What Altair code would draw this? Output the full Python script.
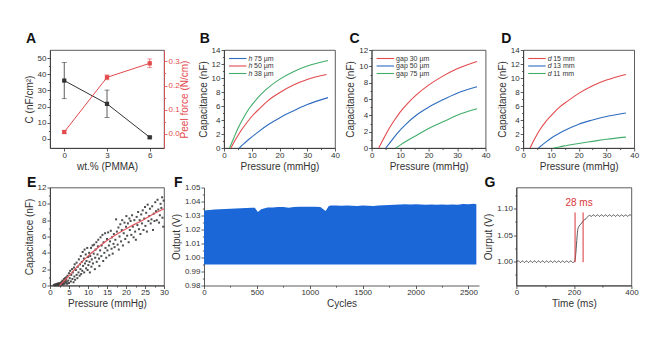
import altair as alt
import pandas as pd

FONT = "Liberation Sans"
INK = "#333333"
RED = "#e24a4d"
BLUE = "#2f6cc0"
GREEN = "#41ad69"
FBLUE = "#1b67d8"
GRED = "#d9353b"
H = 98

# ---------------- data ----------------
a_wt = [0, 3, 6]
a_cap = [36.1, 21.7, 1.0]
a_cap_err = [11.2, 8.5, 0.6]
a_peel = [0.008, 0.234, 0.292]
a_peel_err = [0.006, 0.010, 0.018]

b_labels = ["h 75 µm", "h 50 µm", "h 38 µm"]
b_p = [[5.5, 7, 9, 12, 16, 20, 25, 30, 37.5],
       [2.5, 4, 6, 8, 10, 13, 16, 20, 25, 30, 37],
       [2, 3.5, 5, 7, 9, 12, 15, 20, 25, 30, 37.5]]
b_c = [[0, 0.55, 1.25, 2.2, 3.35, 4.3, 5.3, 6.2, 7.2],
       [0, 1.1, 2.4, 3.5, 4.5, 5.7, 6.8, 7.9, 9.0, 9.8, 10.5],
       [0, 1.4, 2.8, 4.3, 5.6, 7.1, 8.3, 9.8, 10.9, 11.7, 12.5]]

c_labels = ["gap 30 µm", "gap 50 µm", "gap 75 µm"]
c_p = [[2.5, 4, 6, 8, 10, 13, 16, 20, 25, 30, 37],
       [5, 7, 9, 12, 16, 20, 25, 30, 37],
       [8.5, 10, 13, 16, 20, 25, 30, 37]]
c_c = [[0, 1.0, 2.3, 3.4, 4.4, 5.6, 6.6, 7.7, 8.8, 9.7, 10.6],
       [0, 0.9, 1.8, 2.9, 4.1, 5.0, 5.9, 6.7, 7.5],
       [0, 0.35, 1.0, 1.6, 2.4, 3.2, 4.0, 4.8]]

d_labels = ["d 15 mm", "d 13 mm", "d 11 mm"]
d_p = [[2.5, 4, 6, 8, 10, 13, 16, 20, 25, 30, 37],
       [5.5, 8, 10, 13, 16, 20, 25, 30, 37],
       [11, 13, 16, 20, 25, 30, 37]]
d_c = [[0, 1.2, 2.6, 3.7, 4.6, 5.8, 6.7, 7.8, 8.9, 9.7, 10.5],
       [0, 0.8, 1.4, 2.1, 2.7, 3.4, 4.0, 4.5, 5.0],
       [0, 0.15, 0.4, 0.65, 0.95, 1.25, 1.55]]

e_points = [
    (1.0, 0.05), (1.2, 0.1), (1.4, 0.0), (1.5, 0.15), (1.7, 0.05), (1.8, 0.2), (2.0, 0.1), (2.1, 0.25),
    (2.2, 0.0), (2.4, 0.15), (2.5, 0.3), (2.6, 0.05), (2.8, 0.2), (2.9, 0.35), (3.0, 0.1), (3.1, 0.45),
    (3.2, 0.25), (3.3, 0.6), (3.4, 0.15), (3.5, 0.5), (3.6, 0.3), (3.7, 0.8), (3.8, 0.2), (3.9, 0.55),
    (4.0, 0.9), (4.1, 0.35), (4.2, 0.7), (4.3, 1.0), (4.4, 0.45), (4.5, 0.2),
    (4.6, 1.2), (4.8, 0.6), (5.0, 1.5), (5.0, 0.3), (5.2, 0.9), (5.3, 1.8), (5.5, 0.5), (5.6, 1.3),
    (5.8, 2.0), (5.9, 0.8), (6.0, 1.6), (6.2, 0.4), (6.3, 2.2), (6.4, 1.1), (6.5, 2.6), (6.6, 0.7),
    (6.8, 1.9), (7.0, 1.3), (7.0, 2.8), (7.2, 0.9), (7.3, 2.3), (7.5, 1.6), (7.6, 3.2), (7.8, 1.2),
    (7.9, 2.6), (8.0, 2.0), (8.1, 3.6), (8.2, 1.4), (8.4, 2.9), (8.5, 1.8),
    (8.6, 4.1), (8.7, 2.4), (8.9, 3.3), (9.0, 1.6), (9.1, 4.4), (9.2, 2.7), (9.4, 3.8), (9.5, 2.1),
    (9.6, 3.0), (9.8, 4.6), (9.9, 1.9), (10.0, 3.5), (10.1, 2.5), (10.3, 4.0), (10.4, 2.9), (10.5, 1.6),
    (10.6, 3.6), (10.8, 4.6), (10.9, 2.3), (11.0, 3.2), (11.2, 4.9), (11.3, 2.7), (11.5, 3.9), (11.6, 5.0),
    (11.8, 2.0), (11.9, 3.4), (12.0, 4.4), (12.2, 5.3), (12.3, 2.9), (12.5, 3.8),
    (12.6, 4.8), (12.7, 5.6), (12.9, 3.3), (13.0, 2.4), (13.2, 4.3), (13.3, 5.9), (13.5, 3.6), (13.6, 4.9),
    (13.8, 6.2), (14.0, 3.0), (14.1, 5.3), (14.3, 4.0), (14.5, 6.4), (14.6, 4.6), (14.8, 3.4), (15.0, 5.7),
    (15.1, 4.3), (15.3, 6.5), (15.5, 4.9), (15.6, 3.7), (15.8, 5.4), (16.0, 6.7), (16.2, 4.5), (16.3, 5.9),
    (16.5, 3.9), (16.7, 5.1), (16.8, 6.3), (17.0, 4.7), (17.2, 5.6), (17.4, 8.1),
    (17.6, 6.6), (17.8, 5.0), (18.0, 7.1), (18.1, 4.4), (18.3, 6.0), (18.5, 7.5), (18.7, 5.4), (18.9, 6.8),
    (19.0, 8.0), (19.2, 4.9), (19.4, 6.4), (19.6, 7.7), (19.8, 5.7), (20.0, 7.2), (20.1, 8.5), (20.3, 6.1),
    (20.5, 7.6), (20.7, 5.3), (20.9, 8.2), (21.0, 6.8), (21.2, 7.9), (21.4, 6.2), (21.6, 8.6), (21.8, 7.2),
    (22.0, 5.9), (22.2, 8.0), (22.4, 6.6),
    (22.6, 5.6), (22.8, 8.4), (23.0, 7.4), (23.2, 9.0), (23.4, 6.9), (23.6, 8.0), (23.8, 6.3), (24.0, 8.7),
    (24.2, 7.6), (24.4, 9.2), (24.6, 6.8), (24.8, 8.2), (25.0, 9.6), (25.1, 7.3), (25.3, 8.9), (25.5, 6.6),
    (25.7, 9.9), (25.9, 7.9),
    (26.1, 8.5), (26.3, 9.4), (26.5, 7.6), (26.7, 8.1), (26.9, 9.7), (27.1, 6.8), (27.3, 8.8), (27.5, 7.9),
    (27.7, 10.2), (27.9, 9.1), (28.1, 8.0), (28.3, 10.5), (28.5, 9.3), (28.7, 7.7), (28.9, 8.6), (29.1, 10.0),
    (29.3, 9.5), (29.5, 10.8), (29.6, 8.3), (29.8, 7.2), (29.9, 10.4),
]
e_fit_p = [2.5, 4, 6, 8, 10, 12, 15, 18, 21, 24, 27, 30]
e_fit_c = [0, 0.7, 1.7, 2.7, 3.6, 4.4, 5.5, 6.4, 7.2, 7.9, 8.7, 9.4]

f_cycle = [0, 50, 100, 150, 200, 250, 300, 350, 400, 450, 480, 510, 540, 600, 650, 700, 750, 800, 850,
           900, 950, 1000, 1050, 1100, 1150, 1180, 1200, 1250, 1300, 1350, 1400, 1450, 1500, 1550, 1600,
           1650, 1700, 1750, 1800, 1850, 1900, 1950, 2000, 2050, 2100, 2150, 2200, 2250, 2300, 2350,
           2400, 2450, 2500, 2550, 2575]
f_top = [1.0335, 1.0340, 1.0342, 1.0345, 1.0347, 1.0348, 1.0350, 1.0352, 1.0353, 1.0355, 1.0356, 1.0325,
         1.0345, 1.0357, 1.0358, 1.0360, 1.0360, 1.0355, 1.0360, 1.0362, 1.0362, 1.0363, 1.0362, 1.0360,
         1.0332, 1.0368, 1.0372, 1.0372, 1.0370, 1.0372, 1.0370, 1.0368, 1.0372, 1.0370, 1.0368, 1.0372,
         1.0374, 1.0375, 1.0376, 1.0378, 1.0380, 1.0378, 1.0380, 1.0378, 1.0377, 1.0378, 1.0377, 1.0378,
         1.0377, 1.0378, 1.0377, 1.0382, 1.0380, 1.0384, 1.0380]
f_base = 0.995

g_t = [0, 7, 14, 21, 28, 35, 42, 49, 56, 63, 70, 77, 84, 91, 98, 105, 112, 119, 126, 133, 140, 147, 154,
       161, 168, 175, 182, 189, 196, 202, 206, 210, 214, 218, 224, 230, 236, 242, 248, 254, 261, 268,
       275, 282, 289, 296, 303, 310, 317, 324, 331, 338, 345, 352, 359, 366, 373, 380, 387, 394, 400]
g_v = [1.000, 1.0015, 0.9985, 1.0015, 0.9985, 1.0015, 0.9985, 1.0015, 0.9985, 1.0015, 0.9985, 1.0015,
       0.9985, 1.0015, 0.9985, 1.0015, 0.9985, 1.0015, 0.9985, 1.0015, 0.9985, 1.0015, 0.9985, 1.0015,
       0.9985, 1.0015, 0.9985, 1.0015, 0.9985, 1.000, 1.012, 1.040, 1.062, 1.067, 1.071, 1.075, 1.079,
       1.081, 1.085, 1.0875, 1.0855, 1.0885, 1.0855, 1.0885, 1.0855, 1.0885, 1.0855, 1.0885, 1.0855,
       1.0885, 1.0855, 1.0885, 1.0855, 1.0885, 1.0855, 1.0885, 1.0855, 1.0885, 1.0855, 1.0885, 1.087]
g_mark_t = [204, 232]
g_mark_lo = [0.999, 0.999]
g_mark_hi = [1.093, 1.093]
g_note = "28 ms"
g_note_t = 218
g_note_v = 1.110


# ---------------- helpers ----------------
def axis(title, major, minor=(), fmt="d", color=INK, **extra):
    vals = sorted(list(major) + list(minor))
    maj = "[" + ",".join(repr(v) for v in major) + "]"
    kw = dict(
        title=title, values=vals, format=fmt,
        labelExpr=f"indexof({maj}, datum.value) >= 0 ? datum.label : ''",
        tickSize={"condition": {"test": f"indexof({maj}, datum.value) < 0", "value": 1.6}, "value": 3},
        domainColor=color, tickColor=color, labelColor=color, titleColor=color,
    )
    kw.update(extra)
    return alt.Axis(**kw)


def lin(domain):
    return alt.Scale(domain=domain, nice=False, zero=False)


ONE = pd.DataFrame({"k": [0]})


def letter(ch, dx, dy):
    return alt.Chart(pd.DataFrame({"t": [ch]})).mark_text(
        align="left", baseline="top", fontSize=14, fontWeight="bold", color="#111111", font=FONT
    ).encode(text="t:N", x=alt.value(dx), y=alt.value(dy))


def legend_layers(labels, colors, italic):
    rows = [8.5, 16, 23.5]
    out = []
    for lab, col, ry in zip(labels, colors, rows):
        out.append(alt.Chart(ONE).mark_rule(color=col, strokeWidth=1.1).encode(
            x=alt.value(5), x2=alt.value(22.5), y=alt.value(ry)))
        if italic:
            pre, rest = lab.split(" ", 1)
            out.append(alt.Chart(pd.DataFrame({"t": [pre]})).mark_text(
                align="left", baseline="middle", fontSize=7, fontStyle="italic", color=INK, font=FONT
            ).encode(text="t:N", x=alt.value(24.5), y=alt.value(ry)))
            out.append(alt.Chart(pd.DataFrame({"t": [rest]})).mark_text(
                align="left", baseline="middle", fontSize=7, color=INK, font=FONT
            ).encode(text="t:N", x=alt.value(30), y=alt.value(ry)))
        else:
            out.append(alt.Chart(pd.DataFrame({"t": [lab]})).mark_text(
                align="left", baseline="middle", fontSize=7, color=INK, font=FONT
            ).encode(text="t:N", x=alt.value(24.5), y=alt.value(ry)))
    return out


# ---------------- panel A ----------------
dfA = pd.DataFrame({
    "wt": a_wt, "cap": a_cap,
    "cap_lo": [v - e for v, e in zip(a_cap, a_cap_err)],
    "cap_hi": [v + e for v, e in zip(a_cap, a_cap_err)],
    "peel": a_peel,
    "peel_lo": [v - e for v, e in zip(a_peel, a_peel_err)],
    "peel_hi": [v + e for v, e in zip(a_peel, a_peel_err)],
})
xA = alt.X("wt:Q", scale=lin([-1, 7]), axis=axis("wt.% (PMMA)", [0, 3, 6]))
axL = axis("C (nF/cm²)", [0, 10, 20, 30, 40, 50], [5, 15, 25, 35, 45])
axR = axis("Peel force (N/cm)", [0, 0.1, 0.2, 0.3], [0.05, 0.15, 0.25], fmt=".1f", color=RED,
           orient="right", titleAngle=270, titleBaseline="top", titlePadding=0.5)
sL = lin([-5.6, 55])
sR = lin([-0.058, 0.347])
bA = alt.Chart(dfA)
leftA = alt.layer(
    bA.mark_line(color=INK, strokeWidth=1).encode(x=xA, y=alt.Y("cap:Q", scale=sL, axis=axL)),
    bA.mark_rule(color=INK, strokeWidth=0.8).encode(x=xA, y=alt.Y("cap_lo:Q", scale=sL, axis=axL), y2="cap_hi:Q"),
    bA.mark_tick(color=INK, orient="horizontal", size=5, thickness=0.8).encode(x=xA, y=alt.Y("cap_lo:Q", scale=sL, axis=axL)),
    bA.mark_tick(color=INK, orient="horizontal", size=5, thickness=0.8).encode(x=xA, y=alt.Y("cap_hi:Q", scale=sL, axis=axL)),
    bA.mark_square(color=INK, size=18, opacity=1).encode(x=xA, y=alt.Y("cap:Q", scale=sL, axis=axL)),
)
rightA = alt.layer(
    bA.mark_line(color=RED, strokeWidth=1).encode(x=xA, y=alt.Y("peel:Q", scale=sR, axis=axR)),
    bA.mark_rule(color=RED, strokeWidth=0.8).encode(x=xA, y=alt.Y("peel_lo:Q", scale=sR, axis=axR), y2="peel_hi:Q"),
    bA.mark_tick(color=RED, orient="horizontal", size=5, thickness=0.8).encode(x=xA, y=alt.Y("peel_lo:Q", scale=sR, axis=axR)),
    bA.mark_tick(color=RED, orient="horizontal", size=5, thickness=0.8).encode(x=xA, y=alt.Y("peel_hi:Q", scale=sR, axis=axR)),
    bA.mark_square(color=RED, size=18, opacity=1).encode(x=xA, y=alt.Y("peel:Q", scale=sR, axis=axR)),
)
panelA = alt.layer(leftA, rightA, letter("A", -24, -18.3)).resolve_scale(y="independent").properties(
    width=114, height=H)


# ---------------- panels B, C, D ----------------
def curve_panel(ch, labels, ps, cs, colors, ymax, width, italic, ldx):
    xs = alt.X("p:Q", scale=lin([0, 40]),
               axis=axis("Pressure (mmHg)", [0, 10, 20, 30, 40], [5, 15, 25, 35]))
    ymaj = list(range(0, ymax + 1, 2))
    ymin = list(range(1, ymax, 2))
    ys = alt.Y("c:Q", scale=lin([0, ymax]), axis=axis("Capacitance (nF)", ymaj, ymin))
    layers = []
    for lab, p, c, col in zip(labels, ps, cs, colors):
        df = pd.DataFrame({"p": p, "c": c, "i": list(range(len(p)))})
        layers.append(alt.Chart(df).mark_line(color=col, strokeWidth=1.1, interpolate="monotone").encode(
            x=xs, y=ys, order="i:Q"))
    layers += legend_layers(labels, colors, italic)
    layers.append(letter(ch, ldx, -18.3))
    return alt.layer(*layers).properties(width=width, height=H)


panelB = curve_panel("B", b_labels, b_p, b_c, [BLUE, RED, GREEN], 14, 111, True, -24.3)
panelC = curve_panel("C", c_labels, c_p, c_c, [RED, BLUE, GREEN], 12, 114, False, -22)
panelD = curve_panel("D", d_labels, d_p, d_c, [RED, BLUE, GREEN], 14, 111, True, -22)

# ---------------- panel E ----------------
dfE = pd.DataFrame({"p": [q[0] for q in e_points], "c": [q[1] for q in e_points]})
dfEfit = pd.DataFrame({"p": e_fit_p, "c": e_fit_c})
xE = alt.X("p:Q", scale=lin([0, 30]),
           axis=axis("Pressure (mmHg)", [0, 5, 10, 15, 20, 25, 30], [2.5, 7.5, 12.5, 17.5, 22.5, 27.5]))
yE = alt.Y("c:Q", scale=lin([0, 12]),
           axis=axis("Capacitance (nF)", [0, 2, 4, 6, 8, 10, 12], [1, 3, 5, 7, 9, 11]))
panelE = alt.layer(
    alt.Chart(dfE).mark_square(color="#3a3a3a", size=4, opacity=0.9).encode(x=xE, y=yE),
    alt.Chart(dfEfit).mark_line(color="#e0575c", strokeWidth=1.2, interpolate="monotone").encode(x=xE, y=yE),
    letter("E", -23, -11.7),
).properties(width=114, height=H)

# ---------------- panel F ----------------
dfF = pd.DataFrame({"n": f_cycle, "v": f_top, "b": [f_base] * len(f_cycle)})
xF = alt.X("n:Q", scale=lin([0, 2600]),
           axis=axis("Cycles", [0, 500, 1000, 1500, 2000, 2500], [250, 750, 1250, 1750, 2250]))
fmaj = [0.98, 0.99, 1.0, 1.01, 1.02, 1.03, 1.04, 1.05]
fmin = [0.985, 0.995, 1.005, 1.015, 1.025, 1.035, 1.045]
yF = alt.Y("v:Q", scale=lin([0.98, 1.05]), axis=axis("Output (V)", fmaj, fmin, fmt=".2f"))
panelF = alt.layer(
    alt.Chart(dfF).mark_area(color=FBLUE, opacity=1).encode(x=xF, y=yF, y2="b:Q"),
    letter("F", -30, -11.7),
).properties(width=275, height=H, view=alt.ViewBackground(strokeOpacity=0))

# ---------------- panel G ----------------
dfG = pd.DataFrame({"t": g_t, "v": g_v})
xG = alt.X("t:Q", scale=lin([0, 400]), axis=axis("Time (ms)", [0, 200, 400], [100, 300]))
axG = axis("Ourput (V)", [1.0, 1.05, 1.1], [0.975, 1.025, 1.075, 1.125], fmt=".2f")
sG = lin([0.955, 1.14])
yG = alt.Y("v:Q", scale=sG, axis=axG)
dfGm = pd.DataFrame({"t": g_mark_t, "v": g_mark_lo, "hi": g_mark_hi})
dfGn = pd.DataFrame({"t": [g_note_t], "v": [g_note_v], "s": [g_note]})
panelG = alt.layer(
    alt.Chart(dfG).mark_line(color="#444444", strokeWidth=0.9, interpolate="monotone").encode(x=xG, y=yG),
    alt.Chart(dfGm).mark_rule(color=GRED, strokeWidth=1).encode(x=xG, y=yG, y2="hi:Q"),
    alt.Chart(dfGn).mark_text(color=GRED, fontSize=10, font=FONT, baseline="middle").encode(x=xG, y=yG, text="s:N"),
    letter("G", -32, -11.7),
).properties(width=115, height=H)

# ---------------- layout ----------------
top = alt.hconcat(panelA, alt.hconcat(panelB, alt.hconcat(panelC, panelD, spacing=5.6), spacing=4.6), spacing=6)
bottom = alt.hconcat(panelE, alt.hconcat(panelF, panelG, spacing=4.4), spacing=2)
chart = alt.vconcat(top, bottom, spacing=2.5).properties(
    padding={"left": 23, "top": 31, "right": 4, "bottom": 4}
).configure(font=FONT).configure_view(
    stroke=INK, strokeWidth=0.8
).configure_axis(
    grid=False, labelFont=FONT, titleFont=FONT, labelFontSize=8, titleFontSize=10,
    titleFontWeight="normal", labelFlush=False, labelOverlap=False, tickWidth=0.8, domainWidth=0.8,
    labelPadding=1, titlePadding=3
).configure_axisX(labelPadding=0, titlePadding=2)

chart.save("out.html", embed_options={"renderer": "svg", "actions": False})
